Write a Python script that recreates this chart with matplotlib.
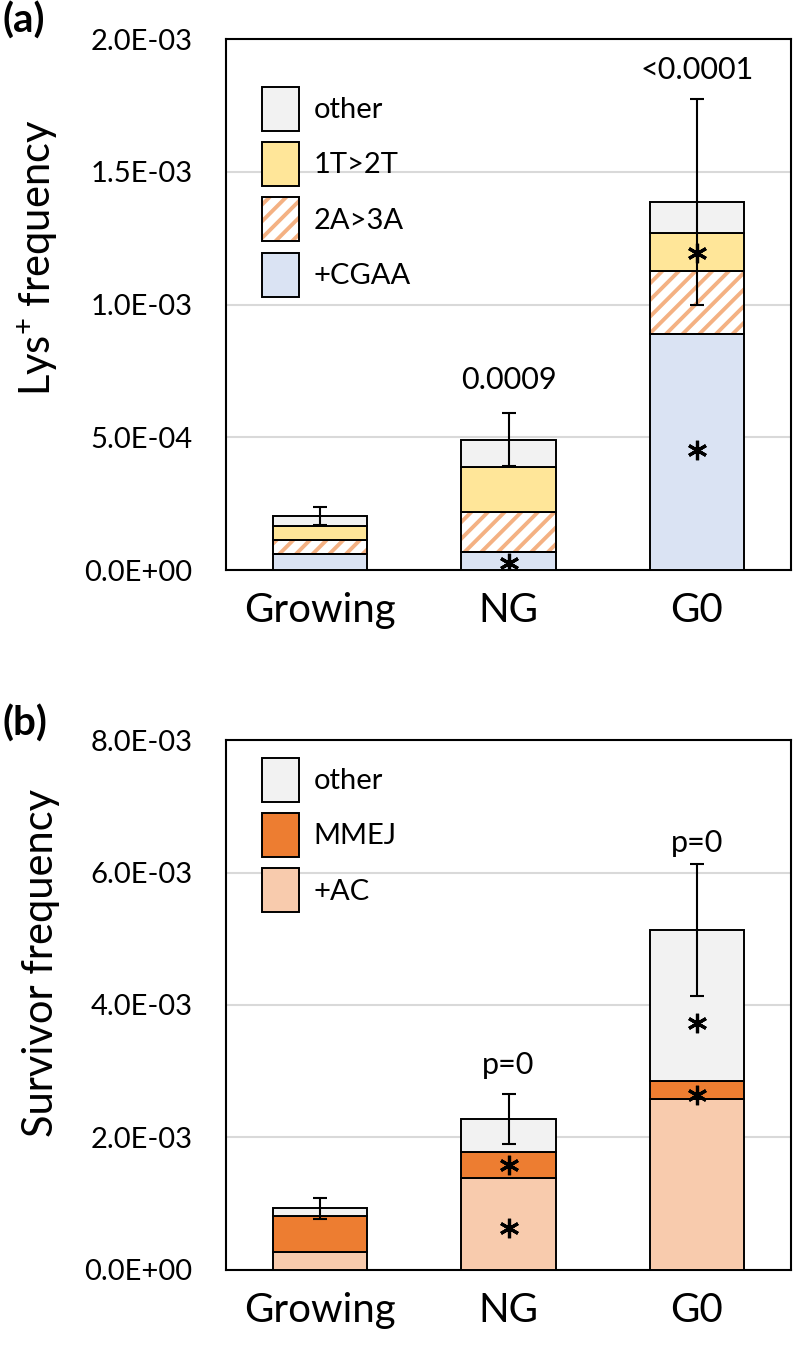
import numpy as np
import matplotlib
matplotlib.use("Agg")
import matplotlib.pyplot as plt
from matplotlib.patches import Patch
from matplotlib.ticker import FuncFormatter, MultipleLocator

plt.rcParams['font.family'] = ['Lato', 'DejaVu Sans']
plt.rcParams['mathtext.fontset'] = 'custom'
plt.rcParams['mathtext.rm'] = 'Lato'
plt.rcParams['hatch.linewidth'] = 2.8

# ---- data ----
categories = ['Growing', 'NG', 'G0']

# (a) Lys+ frequency, stacked bottom -> top
lys_cgaa  = [6.1e-5, 6.9e-5, 8.89e-4]
lys_2a3a  = [5.2e-5, 1.51e-4, 2.36e-4]
lys_1t2t  = [5.4e-5, 1.67e-4, 1.46e-4]
lys_other = [3.7e-5, 1.03e-4, 1.16e-4]
lys_err   = [3.4e-5, 1.0e-4, 3.88e-4]
lys_pvals = ['', '0.0009', '<0.0001']
lys_p_y   = [0, 7.15e-4, 1.885e-3]
lys_star_x = [1, 2, 2]
lys_star_y = [2.75e-5, 1.195e-3, 4.52e-4]

# (b) Survivor frequency, stacked bottom -> top
surv_ac    = [2.7e-4, 1.389e-3, 2.579e-3]
surv_mmej  = [5.4e-4, 3.84e-4, 2.72e-4]
surv_other = [1.16e-4, 5.03e-4, 2.283e-3]
surv_err   = [1.6e-4, 3.78e-4, 1.0e-3]
surv_pvals = ['', 'p=0', 'p=0']
surv_p_y   = [0, 3.09e-3, 6.44e-3]
surv_star_x = [1, 1, 2, 2]
surv_star_y = [1.581e-3, 6.24e-4, 2.64e-3, 3.72e-3]

C_OTHER = '#f2f2f2'
C_1T2T  = '#ffe699'
C_HATCH = '#f4b183'
C_CGAA  = '#dae3f3'
C_MMEJ  = '#ed7d31'
C_AC    = '#f8cbad'

W = 0.5
EDGE = 1.4
TICK_FS = 21
XT_FS = 29
LAB_FS = 30
LEG = dict(loc='upper left', frameon=False, fontsize=TICK_FS,
           handlelength=1.27, handleheight=1.95, labelspacing=0.38,
           handletextpad=0.5, borderpad=0, borderaxespad=0)


def fmt(v, pos):
    return f'{v:.1E}'


def style_axes(ax, ymax, step):
    ax.set_xlim(-0.5, 2.5)
    ax.set_ylim(0, ymax)
    ax.yaxis.set_major_locator(MultipleLocator(step))
    ax.yaxis.set_major_formatter(FuncFormatter(fmt))
    ax.grid(axis='y', color='#d9d9d9', linewidth=1.5)
    ax.set_axisbelow(True)
    for s in ax.spines.values():
        s.set_linewidth(1.5)
        s.set_color('black')
    ax.tick_params(axis='y', length=0, pad=24, labelsize=TICK_FS)
    ax.tick_params(axis='x', length=0, pad=16, labelsize=XT_FS)
    ax.set_xticks(range(len(categories)))
    ax.set_xticklabels(categories)


def stack(ax, x, layers):
    bottom = np.zeros(len(x))
    for vals, color, hatch in layers:
        vals = np.array(vals)
        if hatch:
            ax.bar(x, vals, W, bottom=bottom, color='white', edgecolor=C_HATCH,
                   hatch=hatch, linewidth=0, zorder=2)
            ax.bar(x, vals, W, bottom=bottom, fill=False, edgecolor='black',
                   linewidth=EDGE, zorder=3)
        else:
            ax.bar(x, vals, W, bottom=bottom, color=color, edgecolor='black',
                   linewidth=EDGE, zorder=3)
        bottom = bottom + vals
    return bottom


fig = plt.figure(figsize=(7.93, 13.45), dpi=100)
ax1 = fig.add_axes([0.285, 0.5762, 0.7125, 0.3947])
ax2 = fig.add_axes([0.285, 0.0561, 0.7125, 0.3935])
x = np.arange(len(categories))

# ---- panel (a) ----
tot1 = stack(ax1, x, [(lys_cgaa, C_CGAA, None), (lys_2a3a, None, '//'),
                      (lys_1t2t, C_1T2T, None), (lys_other, C_OTHER, None)])
ax1.errorbar(x, tot1, yerr=lys_err, fmt='none', ecolor='black', elinewidth=1.5,
             capsize=5, capthick=1.5, zorder=5)
for i, (t, py) in enumerate(zip(lys_pvals, lys_p_y)):
    if t:
        ax1.text(x[i], py, t, ha='center', va='center', fontsize=TICK_FS + 1)
ax1.plot(lys_star_x, lys_star_y, linestyle='none', marker=(6, 2, 0),
         markersize=14, markeredgewidth=2.3, color='black', zorder=6)
style_axes(ax1, 2.0e-3, 5e-4)
ax1.set_ylabel('Lys$^{+}$ frequency', fontsize=LAB_FS)
ax1.yaxis.set_label_coords(-0.294, 0.588)

hatched = (Patch(facecolor='white', edgecolor=C_HATCH, hatch='//', linewidth=0),
           Patch(fill=False, edgecolor='black', linewidth=EDGE))
h1 = [Patch(facecolor=C_OTHER, edgecolor='black', linewidth=EDGE),
      Patch(facecolor=C_1T2T, edgecolor='black', linewidth=EDGE),
      hatched,
      Patch(facecolor=C_CGAA, edgecolor='black', linewidth=EDGE)]
ax1.legend(h1, ['other', '1T>2T', '2A>3A', '+CGAA'],
           bbox_to_anchor=(0.064, 0.91), **LEG)

# ---- panel (b) ----
tot2 = stack(ax2, x, [(surv_ac, C_AC, None), (surv_mmej, C_MMEJ, None),
                      (surv_other, C_OTHER, None)])
ax2.errorbar(x, tot2, yerr=surv_err, fmt='none', ecolor='black', elinewidth=1.5,
             capsize=5, capthick=1.5, zorder=5)
for i, (t, py) in enumerate(zip(surv_pvals, surv_p_y)):
    if t:
        ax2.text(x[i], py, t, ha='center', va='center', fontsize=TICK_FS + 1)
ax2.plot(surv_star_x, surv_star_y, linestyle='none', marker=(6, 2, 0),
         markersize=14, markeredgewidth=2.3, color='black', zorder=6)
style_axes(ax2, 8.0e-3, 2e-3)
ax2.set_ylabel('Survivor frequency', fontsize=LAB_FS)
ax2.yaxis.set_label_coords(-0.294, 0.58)

h2 = [Patch(facecolor=C_OTHER, edgecolor='black', linewidth=EDGE),
      Patch(facecolor=C_MMEJ, edgecolor='black', linewidth=EDGE),
      Patch(facecolor=C_AC, edgecolor='black', linewidth=EDGE)]
ax2.legend(h2, ['other', 'MMEJ', '+AC'],
           bbox_to_anchor=(0.064, 0.967), **LEG)

fig.text(0.003, 0.999, '(a)', fontsize=29, fontweight='bold', ha='left', va='top')
fig.text(0.003, 0.476, '(b)', fontsize=29, fontweight='bold', ha='left', va='top')

fig.savefig('out.png', dpi=100)
